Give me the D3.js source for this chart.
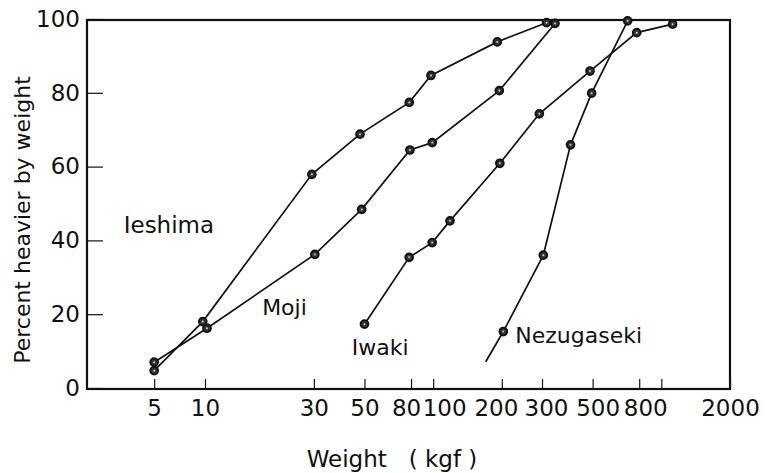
<!DOCTYPE html>
<html>
<head>
<meta charset="utf-8">
<script src="https://cdn.jsdelivr.net/npm/d3@7"></script>
<style>
  html, body { margin: 0; padding: 0; background: #fff; }
  svg { display: block; }
  text { font-family: "DejaVu Sans", sans-serif; fill: #111; }
</style>
</head>
<body>
<div class="chart"></div>
<script>
// weight (kgf) vs percent heavier by weight
let ieshimaWeight  = [5, 9.7, 29.4, 47.8, 78.6, 97.8, 191, 314];
let ieshimaPercent = [4.7, 18.0, 57.9, 68.8, 77.4, 84.7, 93.8, 99.0];

let mojiWeight  = [5, 10.2, 30.3, 48.6, 79.1, 99.1, 195, 342];
let mojiPercent = [7.0, 16.2, 36.2, 48.4, 64.5, 66.5, 80.6, 98.8];

let iwakiWeight  = [50, 78.5, 99, 118.5, 196, 292, 487, 780, 1121];
let iwakiPercent = [17.3, 35.4, 39.4, 45.3, 60.9, 74.3, 85.9, 96.3, 98.6];

// first point is the open end of the line (no marker)
let nezWeight  = [170, 203, 304, 400, 495, 712];
let nezPercent = [7.1, 15.3, 36.0, 65.9, 79.9, 99.5];

let xTicks = [5, 10, 30, 50, 80, 100, 200, 300, 500, 800, 1000, 2000];
let xTickLabels = ["5", "10", "30", "50", "80", "100", "200", "300", "500", "800", "", "2000"];
let yTicks = [0, 20, 40, 60, 80, 100];

let seriesNames = ["Ieshima", "Moji", "Iwaki", "Nezugaseki"];

let config = {
  width: 767,
  height: 473,
  left: 87,
  right: 730,
  top: 19,
  bottom: 388,
  lineColor: '#111'
};

let series = [
  {name: seriesNames[0], w: ieshimaWeight, p: ieshimaPercent, skip: 0},
  {name: seriesNames[1], w: mojiWeight, p: mojiPercent, skip: 0},
  {name: seriesNames[2], w: iwakiWeight, p: iwakiPercent, skip: 0},
  {name: seriesNames[3], w: nezWeight, p: nezPercent, skip: 1}
];

let svg = d3.select('div.chart').append('svg')
  .attr('width', config.width)
  .attr('height', config.height);

// the printed axis is squeezed below 10, so a two-piece log scale
let x = d3.scaleLog()
  .domain([2, 10, 2000])
  .range([config.left, 205, config.right]);

let y = d3.scaleLinear()
  .domain([0, 100])
  .range([config.bottom, config.top]);

// ticks
let xAxis = svg.append('g')
  .attr('transform', 'translate(0,' + (y(0) + 1) + ')')
  .call(d3.axisBottom(x)
    .tickValues(xTicks)
    .tickSize(-10)
    .tickFormat((d, i) => xTickLabels[i]));

let labelNudge = {80: -5, 100: 11, 200: -6, 300: 4, 500: 5, 800: 6};
xAxis.select('.domain').remove();
xAxis.selectAll('line').attr('stroke', config.lineColor).attr('stroke-width', 1.2);
xAxis.selectAll('text')
  .attr('y', 27)
  .attr('dy', 0)
  .attr('dx', (d) => labelNudge[d] || 0)
  .attr('font-size', 23)
  .attr('font-family', '"DejaVu Sans", sans-serif')
  .attr('fill', '#111');

let yAxis = svg.append('g')
  .attr('transform', 'translate(' + config.left + ',0)')
  .call(d3.axisLeft(y)
    .tickValues(yTicks)
    .tickSize(-16)
    .tickPadding(7));

yAxis.select('.domain').remove();
yAxis.selectAll('line').attr('stroke', config.lineColor).attr('stroke-width', 1.2);
yAxis.selectAll('text')
  .attr('font-size', 23)
  .attr('font-family', '"DejaVu Sans", sans-serif')
  .attr('fill', '#111');

// frame
svg.append('rect')
  .attr('x', x(2))
  .attr('y', y(100) + 1)
  .attr('width', x(2000) - x(2))
  .attr('height', y(0) - y(100))
  .attr('fill', 'none')
  .attr('stroke', config.lineColor)
  .attr('stroke-width', 2.2);

// lines
let line = d3.line()
  .x((d) => x(d[0]))
  .y((d) => y(d[1]));

series.forEach(function(s) {
  let pts = s.w.map((w, i) => [w, s.p[i]]);
  svg.append('path')
    .datum(pts)
    .attr('d', line)
    .attr('fill', 'none')
    .attr('stroke', config.lineColor)
    .attr('stroke-width', 1.7);

  let marks = svg.append('g')
    .selectAll('g')
    .data(pts.slice(s.skip))
    .enter().append('g')
    .attr('transform', (d) => 'translate(' + x(d[0]) + ',' + y(d[1]) + ')');
  marks.append('circle')
    .attr('r', 3.9)
    .attr('fill', '#333')
    .attr('stroke', '#111')
    .attr('stroke-width', 1.9);
  marks.append('circle')
    .attr('r', 1)
    .attr('fill', '#ccc');
});

// series names
let nameSpots = [
  {text: seriesNames[0], w: 3.3, p: 42, size: 23},
  {text: seriesNames[1], w: 17.8, p: 19.8, size: 22},
  {text: seriesNames[2], w: 44, p: 9, size: 22},
  {text: seriesNames[3], w: 229, p: 12.2, size: 22}
];
svg.append('g').selectAll('text')
  .data(nameSpots)
  .enter().append('text')
  .text((d) => d.text)
  .attr('x', (d) => x(d.w))
  .attr('y', (d) => y(d.p))
  .attr('font-size', (d) => d.size);

// axis titles
svg.append('text')
  .text('Weight   ( kgf )')
  .attr('x', 392)
  .attr('y', 467)
  .attr('text-anchor', 'middle')
  .attr('font-size', 23)
  .style('white-space', 'pre');

svg.append('text')
  .text('Percent heavier by weight')
  .attr('transform', 'translate(30,220) rotate(-90)')
  .attr('text-anchor', 'middle')
  .attr('font-size', 22);
</script>
</body>
</html>
